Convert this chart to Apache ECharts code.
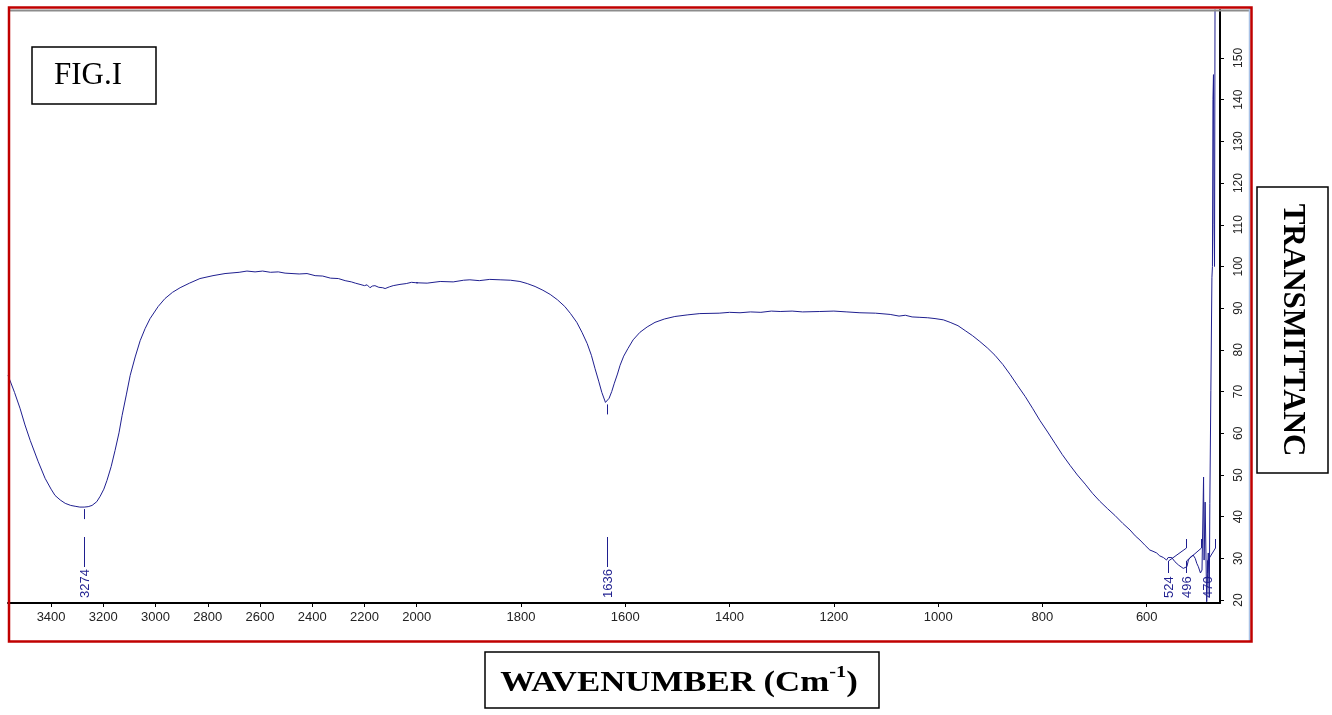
<!DOCTYPE html>
<html><head><meta charset="utf-8">
<script src="https://cdn.jsdelivr.net/npm/echarts@6/dist/echarts.min.js"></script>
<style>html,body{margin:0;padding:0;background:#fff}#c{width:1332px;height:715px}</style>
</head><body><div id="c"></div>
<script>
// ---- data ----
const wavenumber = [3565,3540,3519,3500,3480,3450,3423,3400,3385,3365,3346,3325,3308,3290,3273,3258,3243,3225,3212,3198,3186,3170,3155,3140,3128,3112,3097,3078,3059,3040,3021,2990,2964,2935,2906,2870,2830,2780,2734,2680,2650,2619,2590,2560,2530,2504,2450,2420,2389,2360,2330,2300,2274,2250,2235,2217,2200,2190,2179,2170,2160,2145,2130,2121,2105,2090,2064,2040,2020,2003,1980,1955,1930,1910,1898,1880,1860,1840,1820,1802,1788,1773,1758,1744,1730,1716,1705,1693,1683,1673,1665,1658,1651,1645,1638,1631,1626,1621,1615,1610,1603,1595,1585,1572,1558,1543,1525,1505,1480,1457,1420,1400,1380,1360,1340,1320,1303,1280,1260,1227,1200,1175,1150,1120,1092,1075,1063,1050,1035,1020,1006,990,977,962,948,934,920,905,891,876,862,848,833,819,805,790,776,762,747,733,718,704,690,675,661,646,632,622,613,603,594,588,581,575,568,562,559,552,546,539,530,523,520,517,514,511,507,504,501,497,494,491,490,488,485,482,480,479,477,475,474,473,472,471,470,469];
const transmittance = [73.9,69.8,66.0,62.0,58.3,53.3,49.2,46.6,45.1,44.0,43.2,42.7,42.5,42.3,42.3,42.4,42.7,43.6,44.9,46.6,48.7,52.0,55.9,60.1,64.3,69.2,73.9,78.3,82.2,85.1,87.5,90.4,92.3,93.8,94.9,96.0,97.1,97.8,98.3,98.6,98.9,98.7,98.9,98.6,98.7,98.4,98.2,98.3,97.8,97.7,97.2,97.1,96.6,96.3,96.0,95.7,95.4,95.6,94.9,95.3,95.4,95.0,94.9,94.7,95.1,95.4,95.7,95.9,96.2,96.1,96.0,96.4,96.3,96.7,96.8,96.6,96.9,96.8,96.7,96.4,95.9,95.2,94.3,93.3,92.0,90.4,88.7,86.6,84.2,81.5,78.7,75.5,72.5,69.8,67.4,68.4,70.0,72.0,74.2,76.3,78.5,80.3,82.4,84.2,85.5,86.6,87.4,88.0,88.4,88.7,88.8,89.0,88.9,89.1,89.0,89.3,89.2,89.3,89.1,89.2,89.3,89.1,88.9,88.8,88.5,88.1,88.3,87.9,87.8,87.7,87.5,87.2,86.6,85.8,84.6,83.4,82.0,80.4,78.7,76.5,74.1,71.5,68.8,66.0,63.1,60.3,57.6,54.9,52.3,50.0,47.8,45.6,43.7,41.9,40.3,38.4,36.8,35.4,34.4,33.1,32.0,31.7,31.3,30.6,30.2,29.6,30.2,30.2,29.2,28.4,27.6,28.0,29.6,30.2,30.0,30.8,30.0,28.8,28.0,26.5,27.2,49.5,29.6,43.5,19.6,31.3,20.8,43.2,70.3,97.3,100.0,140.0,146.0,110.0,100.0,165.0];
const xTicksLeft = [2000,2200,2400,2600,2800,3000,3200,3400];
const xTicksRight = [600,800,1000,1200,1400,1600,1800];
const yTicks = [20,30,40,50,60,70,80,90,100,110,120,130,140,150];
const peakWavenumber = [3274,1636,524,496,470];
const peakTransmittance = [42.3,67.4,28.0,26.5,19.6];
const peakLabel = ['3274','1636','524','496','470'];

// ---- layout ----
const X_SPLIT = 2000, X_LEFT_MAX = 3565, X_RIGHT_MIN = 459.5;
const Y_MIN = 19.3, Y_MAX = 161.5;
const LABEL_DX = [0, 0, -18, -15, -8];
const CROWDED = [false, false, true, true, true];
const INK = '#1f1f8f';

const pairs = wavenumber.map((w, i) => [w, transmittance[i]]);
const leftData = pairs.filter(p => p[0] >= 1955);
const rightData = pairs.filter(p => p[0] <= 2003);
const peaks = peakWavenumber.map((w, i) => [w, peakTransmittance[i], i]);

function seg(pts) {
  return { type: 'polyline', shape: { points: pts }, style: { stroke: INK, lineWidth: 1, fill: null } };
}
function renderPeak(params, api) {
  const w = api.value(0), t = api.value(1), idx = api.value(2);
  const p = api.coord([w, t]);
  const base = api.coord([w, Y_MIN])[1];
  const lx = Math.round(p[0] + LABEL_DX[idx]) + 0.5;
  const px = Math.round(p[0]) + 0.5;
  const children = [];
  if (!CROWDED[idx]) {
    children.push(seg([[px, p[1] + 2], [px, p[1] + 12]]));
    children.push(seg([[px, base - 66], [px, base - 36]]));
  } else {
    children.push(seg([[lx, base - 30], [lx, base - 42], [px, base - 55], [px, base - 64]]));
  }
  children.push({
    type: 'text', x: lx + 0.5, y: base - 5, rotation: Math.PI / 2,
    style: { text: peakLabel[idx], fill: INK, font: '13px "Liberation Sans", Arial, sans-serif', align: 'left', verticalAlign: 'middle' }
  });
  return { type: 'group', children };
}

const axisLabelStyle = { color: '#222', fontSize: 13, fontFamily: '"Liberation Sans", Arial, sans-serif', formatter: v => String(v) };

const chart = echarts.init(document.getElementById('c'), null, { renderer: 'canvas' });
chart.setOption({
  animation: false,
  backgroundColor: '#fff',
  grid: [
    { left: 8, right: 1332 - 416.7, top: 10, bottom: 112 },
    { left: 416.7, right: 112, top: 10, bottom: 112 }
  ],
  xAxis: [
    { gridIndex: 0, type: 'value', inverse: true, min: X_SPLIT, max: X_LEFT_MAX,
      axisLine: { lineStyle: { color: '#000', width: 2 } },
      axisTick: { customValues: xTicksLeft, length: 4, lineStyle: { color: '#000' } },
      axisLabel: Object.assign({ customValues: xTicksLeft, margin: 8 }, axisLabelStyle),
      splitLine: { show: false } },
    { gridIndex: 1, type: 'value', inverse: true, min: X_RIGHT_MIN, max: X_SPLIT,
      axisLine: { lineStyle: { color: '#000', width: 2 } },
      axisTick: { customValues: xTicksRight, length: 4, lineStyle: { color: '#000' } },
      axisLabel: Object.assign({ customValues: xTicksRight, margin: 8 }, axisLabelStyle),
      splitLine: { show: false } }
  ],
  yAxis: [
    { gridIndex: 0, type: 'value', min: Y_MIN, max: Y_MAX, show: false },
    { gridIndex: 1, type: 'value', min: Y_MIN, max: Y_MAX, position: 'right',
      axisLine: { show: true, lineStyle: { color: '#000', width: 2 } },
      axisTick: { show: true, customValues: yTicks, length: 4, lineStyle: { color: '#000' } },
      axisLabel: Object.assign({ customValues: yTicks, rotate: 90, margin: 13 }, axisLabelStyle, { fontSize: 12 }),
      splitLine: { show: false } }
  ],
  series: [
    { type: 'line', xAxisIndex: 0, yAxisIndex: 0, data: leftData, showSymbol: false, clip: true,
      lineStyle: { color: INK, width: 1 }, silent: true },
    { type: 'line', xAxisIndex: 1, yAxisIndex: 1, data: rightData, showSymbol: false, clip: true,
      lineStyle: { color: INK, width: 1 }, silent: true },
    { type: 'custom', xAxisIndex: 0, yAxisIndex: 0, data: peaks.filter(p => p[0] > X_SPLIT), renderItem: renderPeak, clip: false, silent: true },
    { type: 'custom', xAxisIndex: 1, yAxisIndex: 1, data: peaks.filter(p => p[0] <= X_SPLIT), renderItem: renderPeak, clip: false, silent: true }
  ],
  graphic: [
    { type: 'line', shape: { x1: 10, y1: 10.5, x2: 1249, y2: 10.5 }, style: { stroke: '#8c8c8c', lineWidth: 2 }, z: 10 },
    { type: 'line', shape: { x1: 1249.5, y1: 8, x2: 1249.5, y2: 641 }, style: { stroke: '#a9c2e6', lineWidth: 1.5 }, z: 10 },
    { type: 'rect', shape: { x: 9, y: 7.5, width: 1242.5, height: 634 }, style: { stroke: '#c00000', lineWidth: 2.5, fill: null }, z: 11 },
    { type: 'rect', shape: { x: 32, y: 47, width: 124, height: 57 }, style: { stroke: '#000', lineWidth: 1.5, fill: '#fff' }, z: 12 },
    { type: 'text', x: 88, y: 76, style: { text: 'FIG.I', font: '31px "Liberation Serif", "Times New Roman", serif', fill: '#000', align: 'center', verticalAlign: 'middle' }, z: 13 },
    { type: 'rect', shape: { x: 485, y: 652, width: 394, height: 56 }, style: { stroke: '#000', lineWidth: 1.5, fill: '#fff' }, z: 12 },
    { type: 'text', x: 679, y: 681, scaleX: 1.2,
      style: { text: '{a|WAVENUMBER (Cm}{s|-1}{a|)}', align: 'center', verticalAlign: 'middle',
        rich: {
          a: { fontSize: 29, fontWeight: 'bold', fontFamily: '"Liberation Serif", "Times New Roman", serif', fill: '#000', lineHeight: 34, verticalAlign: 'bottom' },
          s: { fontSize: 17, fontWeight: 'bold', fontFamily: '"Liberation Serif", "Times New Roman", serif', fill: '#000', lineHeight: 34, verticalAlign: 'top' }
        } }, z: 13 },
    { type: 'rect', shape: { x: 1257, y: 187, width: 71, height: 286 }, style: { stroke: '#000', lineWidth: 1.5, fill: '#fff' }, z: 12 },
    { type: 'text', x: 1292, y: 330, rotation: -Math.PI / 2,
      style: { text: 'TRANSMITTANC', font: 'bold 31px "Liberation Serif", "Times New Roman", serif', fill: '#000', align: 'center', verticalAlign: 'middle' }, z: 13 }
  ]
});
</script>
</body></html>
